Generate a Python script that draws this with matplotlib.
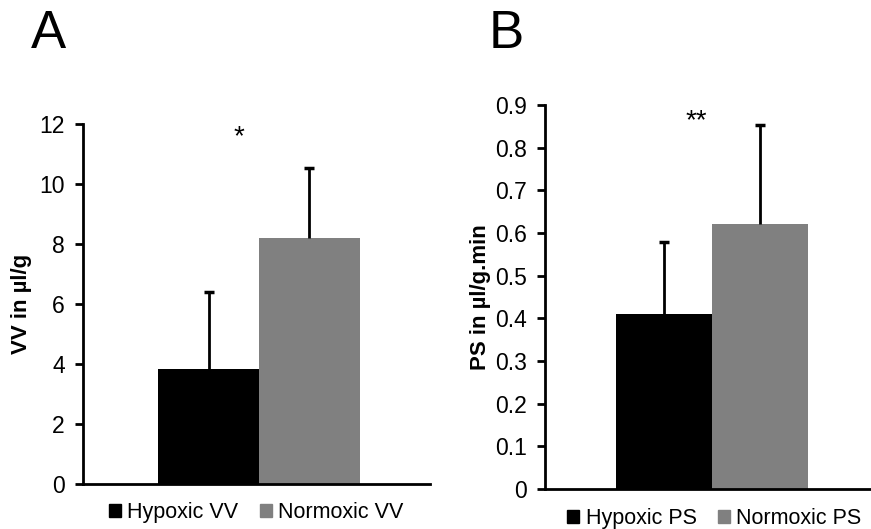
import matplotlib
matplotlib.use("Agg")
import matplotlib.pyplot as plt
from matplotlib.patches import Patch
import numpy as np

plt.rcParams['font.family'] = ['Liberation Sans', 'DejaVu Sans']

# Data
groups = ["Hypoxic", "Normoxic"]
vv_values = [3.83, 8.2]
vv_err = [2.57, 2.33]
ps_values = [0.41, 0.621]
ps_err = [0.168, 0.232]
colors = ["#000000", "#808080"]

vv_ticks = [0, 2, 4, 6, 8, 10, 12]
ps_ticks = [0, 0.1, 0.2, 0.3, 0.4, 0.5, 0.6, 0.7, 0.8, 0.9]
ps_ticklabels = ["0", "0.1", "0.2", "0.3", "0.4", "0.5", "0.6", "0.7", "0.8", "0.9"]

fig = plt.figure(figsize=(8.71, 5.29), dpi=100)
fig.patch.set_facecolor("white")

axA = fig.add_axes([83/871, 1-484/529, (430-83)/871, (484-124)/529])
axB = fig.add_axes([545/871, 1-489/529, (871-545)/871, (489-105)/529])

TICK_FS = 16.5

def style(ax):
    for s in ["top", "right"]:
        ax.spines[s].set_visible(False)
    ax.spines["left"].set_linewidth(2)
    ax.spines["bottom"].set_linewidth(2)
    ax.tick_params(axis="y", direction="out", length=6, width=2, labelsize=TICK_FS, pad=7)
    ax.tick_params(axis="x", bottom=False, labelbottom=False)

def upper_errors(ax, x, vals, errs):
    vals = np.asarray(vals)
    errs = np.asarray(errs)
    ax.errorbar(x, vals, yerr=[np.zeros_like(errs), errs], fmt="none", ecolor="black",
                elinewidth=2, capsize=0, zorder=3)
    ax.plot(x, vals + errs, ls="none", marker="_", ms=7, mew=2.5, color="black", zorder=3)

x = [0, 1]

# Panel A
axA.bar(x, vv_values, width=1.0, color=colors, zorder=2)
upper_errors(axA, x, vv_values, vv_err)
axA.set_ylim(0, 12)
axA.set_xlim(-1.25, 2.2)
axA.set_yticks(vv_ticks)
style(axA)
axA.set_ylabel("VV in µl/g", fontsize=16, fontweight="bold", labelpad=5)
axA.text(0.3, 11.55, "*", ha="center", va="center", fontsize=20)
axA.legend(handles=[Patch(color=colors[0], label="Hypoxic VV"),
                    Patch(color=colors[1], label="Normoxic VV")],
           loc="upper center", bbox_to_anchor=(0.5, -0.015), ncol=2, frameon=False,
           fontsize=15.5, handlelength=0.55, handleheight=0.55, handletextpad=0.3,
           columnspacing=1.0, borderaxespad=0.2)

# Panel B
axB.bar(x, ps_values, width=1.0, color=colors, zorder=2)
upper_errors(axB, x, ps_values, ps_err)
axB.set_ylim(0, 0.9)
axB.set_xlim(-1.24, 2.16)
axB.set_yticks(ps_ticks)
axB.set_yticklabels(ps_ticklabels)
style(axB)
axB.set_ylabel("PS in µl/g.min", fontsize=16, fontweight="bold", labelpad=3)
axB.text(0.34, 0.862, "**", ha="center", va="center", fontsize=20)
axB.legend(handles=[Patch(color=colors[0], label="Hypoxic PS"),
                    Patch(color=colors[1], label="Normoxic PS")],
           loc="upper center", bbox_to_anchor=(0.52, -0.017), ncol=2, frameon=False,
           fontsize=15.5, handlelength=0.55, handleheight=0.55, handletextpad=0.3,
           columnspacing=1.0, borderaxespad=0.2)

fig.text(31/871, 1-48/529, "A", fontsize=38, ha="left", va="baseline")
fig.text(489/871, 1-48/529, "B", fontsize=38, ha="left", va="baseline")

fig.savefig("out.png", dpi=100, facecolor="white")
